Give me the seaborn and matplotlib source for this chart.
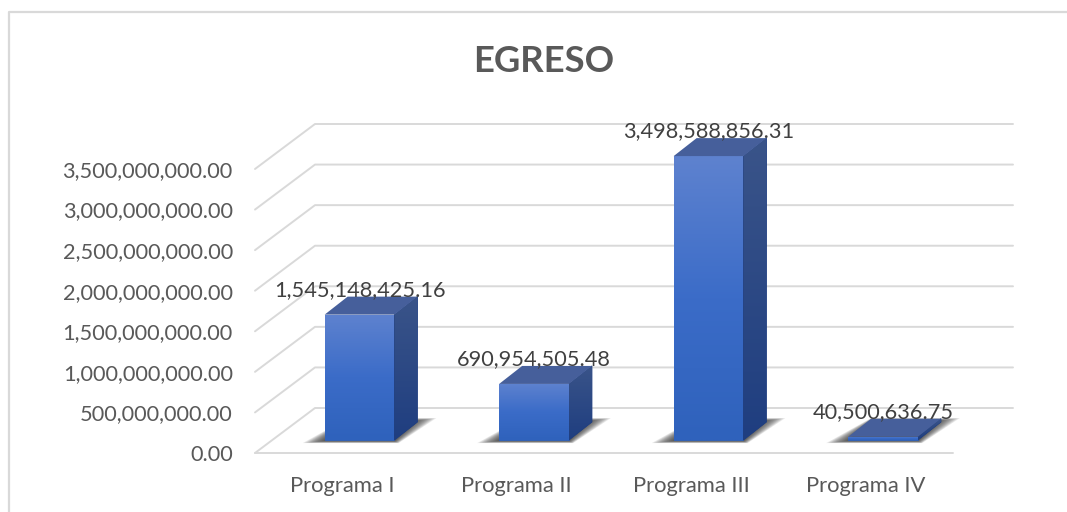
import numpy as np
import matplotlib
matplotlib.use("Agg")
import matplotlib.pyplot as plt
import pandas as pd
import seaborn as sns
from matplotlib.colors import to_rgb
from matplotlib.lines import Line2D
from matplotlib.patches import Polygon
from matplotlib.ticker import FuncFormatter
from matplotlib.transforms import IdentityTransform

categories = ["Programa I", "Programa II", "Programa III", "Programa IV"]
values = [1545148425.16, 690954505.48, 3498588856.31, 40500636.75]
y_ticks = [0, 500e6, 1000e6, 1500e6, 2000e6, 2500e6, 3000e6, 3500e6]
title_text = "EGRESO"

W, H = 1067, 512
WALL_DX, WALL_DY = 60, 45      # depth of the floor in pixels
BAR_DX, BAR_DY = 17.3, 13      # bar plane inside the floor
SIDE_DX, SIDE_DY = 23, 18      # depth of each bar
GRID = "#D9D9D9"
FONT = "Lato"

sns.set_theme(style="white")
plt.rcParams["font.family"] = [FONT, "DejaVu Sans"]
fig = plt.figure(figsize=(W / 100, H / 100), dpi=100, facecolor="white")


def rect(left, top, right, bottom):
    return [left / W, 1 - bottom / H, (right - left) / W, (bottom - top) / H]


ax = fig.add_axes(rect(255, 169, 953, 453), zorder=1)
bar_ax = fig.add_axes(rect(255 + BAR_DX, 169 - BAR_DY, 953 + BAR_DX, 453 - BAR_DY), zorder=2)
for a in (ax, bar_ax):
    a.patch.set_alpha(0)

df = pd.DataFrame({"Programa": categories, "Egreso": values})
sns.barplot(data=df, x="Programa", y="Egreso", ax=bar_ax, width=0.4,
            color="#3A6DC8", saturation=1, errorbar=None)
for a in (ax, bar_ax):
    a.set_xlim(-0.5, 3.5)
    a.set_ylim(0, 3.5e9)
bar_ax.axis("off")

ax.set_xticks(range(len(categories)), categories)
ax.set_yticks(y_ticks)
ax.yaxis.set_major_formatter(FuncFormatter(lambda v, _: f"{v:,.2f}"))
ax.tick_params(axis="y", length=0, pad=16, labelsize=15.7, labelcolor="#595959")
ax.tick_params(axis="x", length=0, pad=16.5, labelsize=15.8, labelcolor="#595959")
ax.set_xlabel("")
ax.set_ylabel("")
sns.despine(ax=ax, left=True, bottom=True, top=True, right=True)
ax.grid(False)

fig.canvas.draw()
ident = IdentityTransform()

# walls and floor, positioned from the y scale
x0, _ = ax.transData.transform((-0.5, 0))
x1, _ = ax.transData.transform((3.5, 0))
for v in y_ticks:
    _, y = ax.transData.transform((0, v))
    ax.add_line(Line2D([x0, x0 + WALL_DX, x1 + WALL_DX],
                       [y, y + WALL_DY, y + WALL_DY],
                       transform=ident, color=GRID, lw=1.4, clip_on=False, zorder=1))
_, y0 = ax.transData.transform((0, 0))
ax.add_line(Line2D([x0, x1], [y0, y0], transform=ident, color=GRID, lw=1.4,
                   clip_on=False, zorder=1))


def gradient(a, pts, stops, zorder):
    """Fill a pixel-space polygon with a vertical colour gradient."""
    pts = np.asarray(pts)
    a.add_patch(Polygon(pts, closed=True, transform=ident, facecolor=stops[-1],
                        edgecolor=stops[-1], lw=0.6, clip_on=False, zorder=zorder - 0.5))
    l, b = pts.min(axis=0)
    r, t = pts.max(axis=0)
    cols = np.array([to_rgb(c) for c in stops])
    s = np.linspace(0, 1, 128)
    pos = np.linspace(0, 1, len(stops))
    arr = np.stack([np.interp(s, pos, cols[:, k]) for k in range(3)], axis=1)[:, None, :]
    xl, yl = a.get_xlim(), a.get_ylim()
    im = a.imshow(arr, extent=(l, r, b, t), origin="upper", aspect="auto",
                  transform=ident, zorder=zorder, interpolation="bilinear")
    clip = Polygon(pts, closed=True, transform=ident)
    im.set_clip_path(clip)
    im.set_clip_box(fig.bbox)
    a.set_xlim(xl)
    a.set_ylim(yl)


FRONT = ["#5E82CF", "#3B6CC8", "#2F62BC"]
SIDE = ["#3A5489", "#1F3E80"]
TOP = "#465F9B"

for patch, v in zip(list(bar_ax.patches), values):
    (l, b), (r, t) = bar_ax.transData.transform(
        [(patch.get_x(), 0), (patch.get_x() + patch.get_width(), v)])
    # soft shadow on the floor
    layers = 12
    for i in range(layers):
        g = (layers - 1 - i) * 1.9
        shadow = [(l - 1 - g, b - 1 - g * 0.1), (r + g * 0.2, b - 1 - g * 0.1),
                  (r + 21 + g, b + SIDE_DY + 1 + g * 0.14), (l + SIDE_DX, b + SIDE_DY + 1 + g * 0.14)]
        bar_ax.add_patch(Polygon(shadow, closed=True, transform=ident, facecolor="#222222",
                                 edgecolor="none", alpha=0.1, clip_on=False, zorder=3))
    patch.set_visible(False)
    gradient(bar_ax, [(l, b), (r, b), (r, t), (l, t)], FRONT, 5)
    gradient(bar_ax, [(r, b), (r + SIDE_DX, b + SIDE_DY), (r + SIDE_DX, t + SIDE_DY), (r, t)], SIDE, 5)
    bar_ax.add_patch(Polygon([(l, t), (r, t), (r + SIDE_DX, t + SIDE_DY), (l + SIDE_DX, t + SIDE_DY)],
                             closed=True, transform=ident, facecolor=TOP, edgecolor="none",
                             clip_on=False, zorder=6))
    bar_ax.annotate(f"{v:,.2f}", xy=((l + r) / 2, t), xycoords=ident,
                    xytext=(0, 25 * 0.72), textcoords="offset points",
                    ha="center", va="center", fontsize=15.7, color="#404040",
                    annotation_clip=False, zorder=8)

fig.text(544 / W, 1 - 62 / H, title_text, ha="center", va="center",
         fontsize=26.3, fontweight="bold", color="#595959")

# chart frame, cut off by the picture at the right and the bottom
fig.add_artist(Line2D([8.5 / W, 8.5 / W, 1], [0, 1 - 12 / H, 1 - 12 / H],
                      color=GRID, lw=1.6, transform=fig.transFigure))

fig.savefig("out.png", dpi=100)
